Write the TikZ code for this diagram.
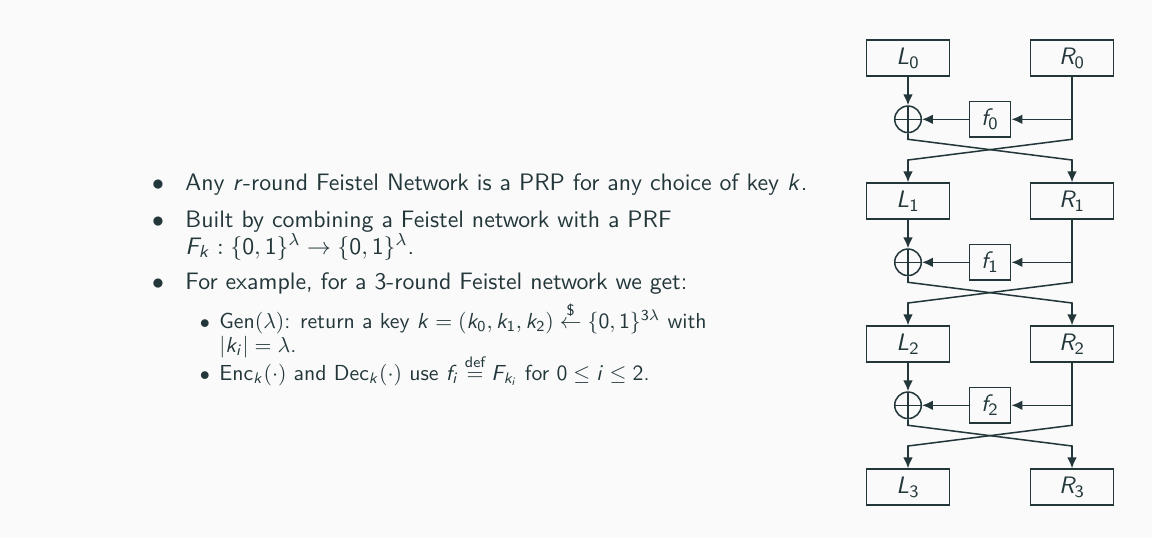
\RequirePackage{fix-cm}
\documentclass[tikz,border=0pt]{standalone}
\usepackage{amsmath,amssymb}
\usetikzlibrary{arrows.meta}

% sans-serif math letters and digits (Greek keeps the default math font)
\DeclareSymbolFont{sfletters}{OT1}{cmss}{m}{sl}
\DeclareSymbolFont{sfdigits}{OT1}{cmss}{m}{n}
\newcommand\sfletter[1]{\DeclareMathSymbol{#1}{\mathord}{sfletters}{`#1}}
\newcommand\sfdigit[1]{\DeclareMathSymbol{#1}{\mathord}{sfdigits}{`#1}}
\sfletter{k}\sfletter{r}\sfletter{F}\sfletter{L}\sfletter{R}\sfletter{f}\sfletter{i}
\sfdigit{0}\sfdigit{1}\sfdigit{2}\sfdigit{3}

\definecolor{ink}{HTML}{23373B}
\definecolor{paper}{HTML}{FAFAFA}

\begin{document}
\begin{tikzpicture}[x=0.46pt,y=-0.46pt,
  every node/.style={text=ink,font=\sffamily\fontsize{10.95}{13.6}\selectfont},
  half/.style={draw=ink,line width=0.7pt,minimum width=38pt,minimum height=16.5pt,inner sep=0pt},
  fbox/.style={draw=ink,line width=0.7pt,minimum width=19pt,minimum height=16.5pt,inner sep=0pt},
  xorop/.style={draw=ink,line width=0.7pt,circle,minimum size=12.2pt,inner sep=0pt,
    path picture={\draw[ink,line width=0.7pt]
      (path picture bounding box.north) -- (path picture bounding box.south)
      (path picture bounding box.west) -- (path picture bounding box.east);}},
  wire/.style={draw=ink,line width=0.7pt},
  arr/.style={wire,-{Latex[length=5pt,width=4.4pt]}},
  lineA/.style={anchor=base west,inner sep=0pt},
  lineB/.style={anchor=base west,inner sep=0pt,font=\sffamily\fontsize{10}{12}\selectfont},
  dotA/.style={anchor=base,inner sep=0pt,font=\fontsize{10.95}{13.6}\selectfont},
  dotB/.style={anchor=base,inner sep=0pt,font=\fontsize{9}{11}\selectfont},
]
\useasboundingbox (0,0) rectangle (1152,538);
\fill[paper] (0,0) rectangle (1152,538);

% bullet list
\node[dotA] (d1) at (158,190) {$\bullet$};
\node[lineA] (t1) at (185,190) {Any $r$-round Feistel Network is a PRP for any choice of key $k$.};
\node[dotA] (d2) at (158,227) {$\bullet$};
\node[lineA] (t2) at (185,227) {Built by combining a Feistel network with a PRF};
\node[lineA] (t3) at (185,254) {$F_k : \{0,1\}^\lambda \to \{0,1\}^\lambda$.};
\node[dotA] (d3) at (158,289) {$\bullet$};
\node[lineA] (t4) at (185,289) {For example, for a 3-round Feistel network we get:};
\node[dotB] (d4) at (205,328) {$\bullet$};
\node[lineB] (t5) at (219,328) {Gen$(\lambda)$: return a key $k = (k_0, k_1, k_2) \overset{\text{\scriptsize\$}}{\leftarrow} \{0,1\}^{3\lambda}$ with};
\node[lineB] (t6) at (219,352) {$|k_i| = \lambda$.};
\node[dotB] (d5) at (205,380) {$\bullet$};
\node[lineB] (t7) at (219,380) {Enc$_k(\cdot)$ and Dec$_k(\cdot)$ use $f_i \overset{\text{def}}{=} F_{k_i}$ for $0 \le i \le 2$.};

% Feistel rounds
\foreach \i in {0,1,2,3}{
  \pgfmathsetmacro{\t}{40+143*\i}
  \node[half] (L\i) at (908,\t+18) {$L_\i$};
  \node[half] (R\i) at (1072,\t+18) {$R_\i$};
}
\foreach \i [evaluate=\i as \n using int(\i+1)] in {0,1,2}{
  \pgfmathsetmacro{\t}{40+143*\i}
  \node[xorop] (x\i) at (908,\t+79.3) {};
  \node[fbox] (f\i) at (990,\t+79.3) {$f_\i$};
  \coordinate (b\i) at (1072,\t+79.3);
  \coordinate (pl\i) at (908,\t+99.3);
  \coordinate (pr\i) at (1072,\t+99.3);
  \coordinate (ql\i) at (908,\t+120);
  \coordinate (qr\i) at (1072,\t+120);
  \draw[arr] (L\i) -- (x\i);
  \draw[arr] (b\i) -- (f\i);
  \draw[arr] (f\i) -- (x\i);
  \draw[arr] (x\i) -- (pl\i) -- (qr\i) -- (R\n);
  \draw[arr] (R\i) -- (pr\i) -- (ql\i) -- (L\n);
}
\end{tikzpicture}
\end{document}
